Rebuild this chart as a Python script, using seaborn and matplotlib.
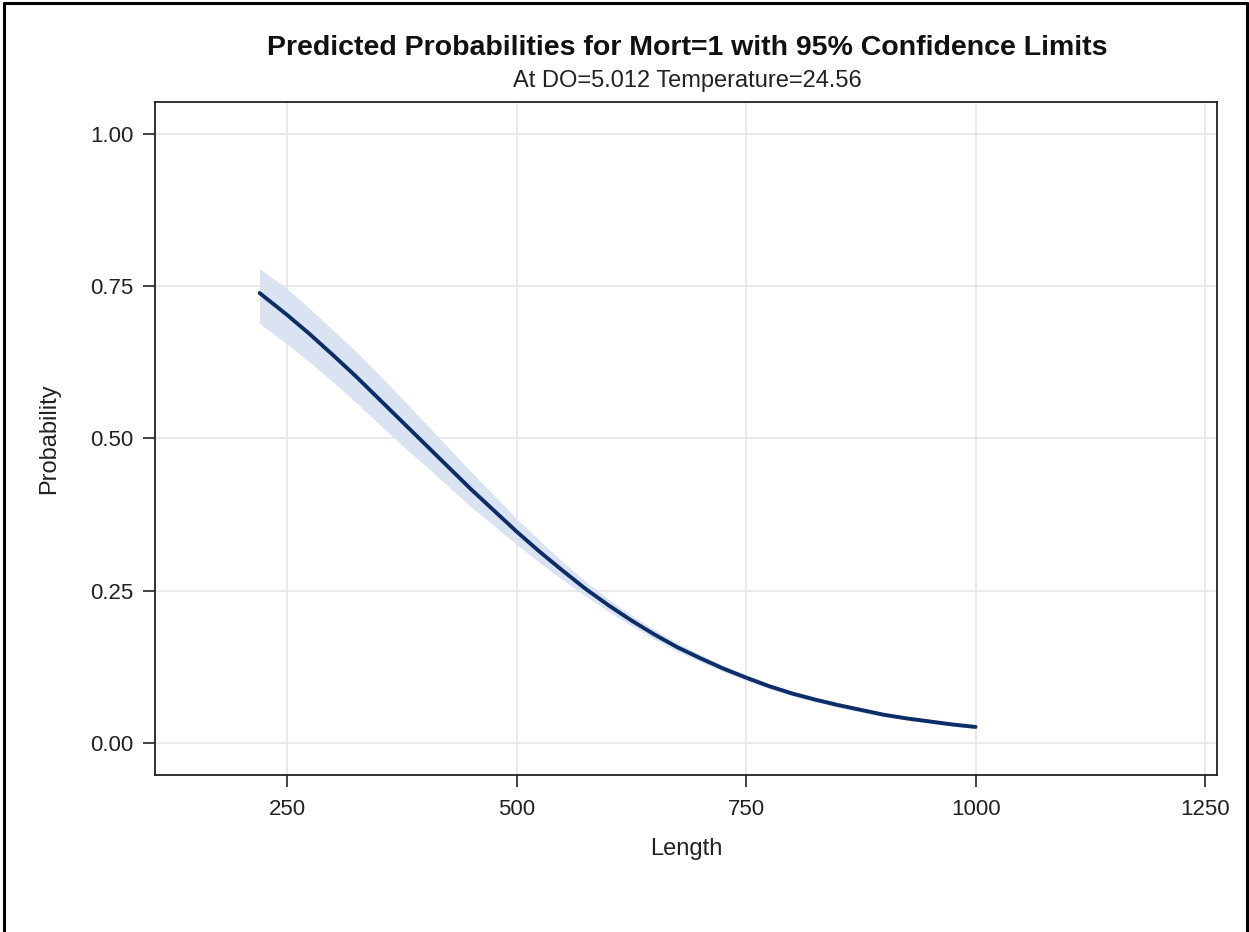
import matplotlib
matplotlib.use("Agg")
import matplotlib.pyplot as plt
from matplotlib.lines import Line2D
import seaborn as sns
import pandas as pd

# Data
length = [220, 250, 275, 300, 325, 350, 375, 400, 425, 450, 475, 500, 525, 550,
          575, 600, 625, 650, 675, 700, 725, 750, 775, 800, 825, 850, 875, 900,
          925, 950, 975, 1000]
prob = [0.739, 0.703, 0.671, 0.637, 0.602, 0.565, 0.528, 0.491, 0.454, 0.417,
        0.382, 0.347, 0.314, 0.283, 0.253, 0.226, 0.201, 0.178, 0.157, 0.139,
        0.122, 0.107, 0.093, 0.081, 0.071, 0.062, 0.054, 0.046, 0.040, 0.035,
        0.030, 0.026]
lower = [0.689, 0.655, 0.625, 0.593, 0.559, 0.524, 0.489, 0.456, 0.422, 0.388,
         0.357, 0.326, 0.296, 0.268, 0.241, 0.216, 0.192, 0.170, 0.150, 0.133,
         0.117, 0.102, 0.089, 0.077, 0.067, 0.058, 0.050, 0.043, 0.037, 0.032,
         0.027, 0.023]
upper = [0.779, 0.746, 0.713, 0.678, 0.643, 0.605, 0.566, 0.526, 0.486, 0.446,
         0.407, 0.368, 0.332, 0.298, 0.265, 0.236, 0.210, 0.186, 0.164, 0.145,
         0.127, 0.112, 0.097, 0.085, 0.075, 0.066, 0.058, 0.049, 0.043, 0.038,
         0.033, 0.029]
x_ticks = [250, 500, 750, 1000, 1250]
y_ticks = [0.00, 0.25, 0.50, 0.75, 1.00]
title = "Predicted Probabilities for Mort=1 with 95% Confidence Limits"
subtitle = "At DO=5.012 Temperature=24.56"

df = pd.DataFrame({"Length": length, "Probability": prob,
                   "Lower": lower, "Upper": upper})

sns.set_theme(style="whitegrid")
plt.rcParams["font.family"] = ["Liberation Sans", "DejaVu Sans"]

W, H = 1249, 932
fig = plt.figure(figsize=(W / 100, H / 100), dpi=100)
ax = fig.add_axes([155 / W, 1 - 775 / H, (1217 - 155) / W, (775 - 102) / H])

ax.fill_between(df["Length"], df["Lower"], df["Upper"], color="#d9e3f2",
                linewidth=0, zorder=2)
sns.lineplot(data=df, x="Length", y="Probability", ax=ax, color="#0d2d68",
             linewidth=2.8, zorder=3)

ax.set_xlim(106, 1263)
ax.set_ylim(-0.053, 1.053)
ax.set_xticks(x_ticks)
ax.set_yticks(y_ticks)
ax.set_yticklabels([f"{v:.2f}" for v in y_ticks])
ax.set_xticklabels([str(v) for v in x_ticks])

ax.grid(True, color="#e6e6e6", linewidth=1.2)
ax.set_axisbelow(True)
for s in ax.spines.values():
    s.set_visible(True)
    s.set_color("#222222")
    s.set_linewidth(1.3)

ax.tick_params(axis="both", which="major", length=8.6, width=1.2, color="#222222",
               labelsize=16, labelcolor="#222222", direction="out",
               bottom=True, left=True)
ax.tick_params(axis="x", pad=9)
ax.tick_params(axis="y", pad=7)
ax.set_xlabel("Length", fontsize=17, color="#222222")
ax.set_ylabel("Probability", fontsize=17, color="#222222")
ax.xaxis.set_label_coords(0.5, (775 - 838) / 673)
ax.yaxis.set_label_coords((60 - 155) / 1062, 0.5)

cx = 687 / W
fig.text(cx, 1 - 55 / H, title, ha="center", va="baseline", fontsize=20.5,
         fontweight="bold", color="#111111")
fig.text(cx, 1 - 87 / H, subtitle, ha="center", va="baseline", fontsize=17,
         color="#222222")

# outer border (left, top, right)
for xs, ys in [([0.003, 0.003], [0, 0.997]), ([0.003, 0.998], [0.997, 0.997]),
               ([0.998, 0.998], [0, 0.997])]:
    fig.add_artist(Line2D(xs, ys, transform=fig.transFigure, color="black",
                          linewidth=2.2))

fig.savefig("out.png", dpi=100, facecolor="white")
